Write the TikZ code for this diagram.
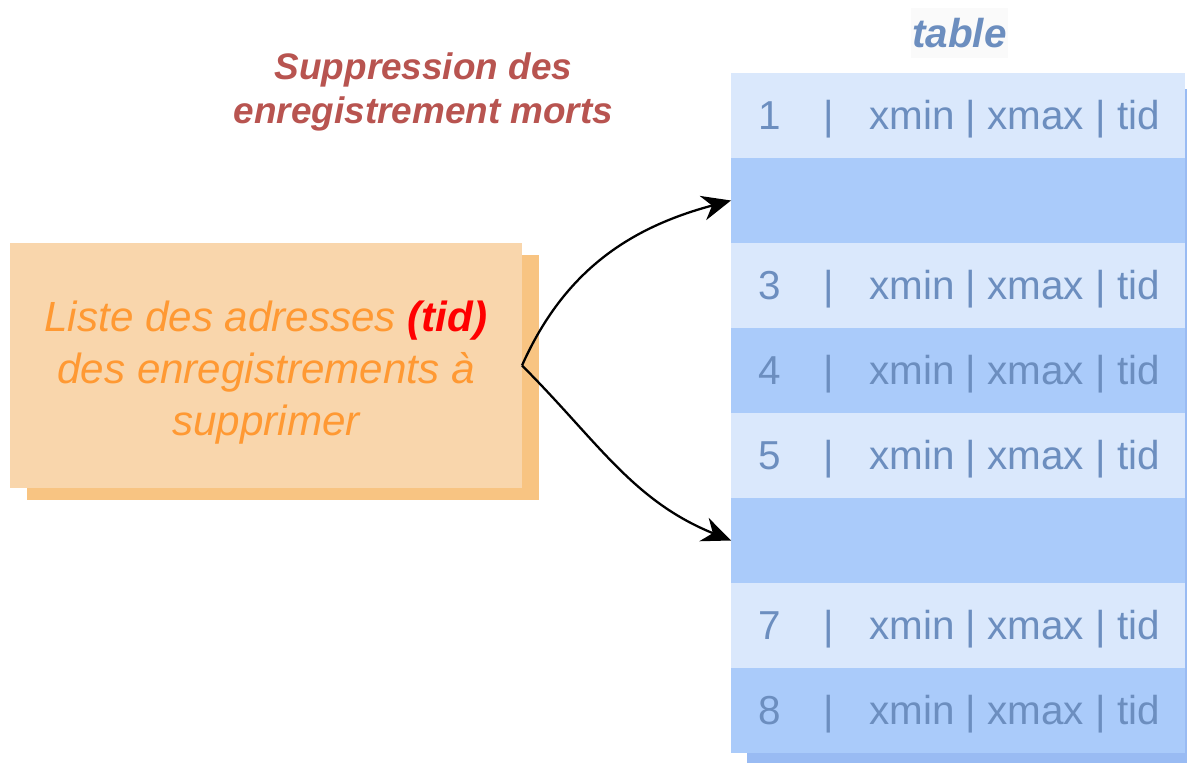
\documentclass[tikz,border=0pt]{standalone}
\usepackage{fontspec}
\setmainfont{Liberation Sans}
\usetikzlibrary{arrows.meta}
\usetikzlibrary{shadows}

\definecolor{rowlight}{HTML}{DAE8FC}
\definecolor{rowdark}{HTML}{AACBFA}
\definecolor{rowshadow}{HTML}{99BBF3}
\definecolor{rowtext}{HTML}{6C8EBF}
\definecolor{boxfill}{HTML}{F9D6AC}
\definecolor{boxshadow}{HTML}{F8C482}
\definecolor{boxtext}{HTML}{FF9933}
\definecolor{titlered}{HTML}{B85450}

\tikzset{
	row/.style={minimum width=9.08cm, minimum height=1.7cm, inner sep=0pt, outer sep=0pt},
	celltxt/.style={text=rowtext, inner sep=0pt, font=\fontsize{23}{27}\selectfont},
	listebox/.style={fill=boxfill, minimum width=10.24cm, minimum height=4.9cm, inner sep=0pt, outer sep=0pt,
		drop shadow={opacity=1, fill=boxshadow, shadow xshift=0.34cm, shadow yshift=-0.24cm}},
	listetxt/.style={text=boxtext, align=center, inner sep=0pt, font=\itshape\fontsize{24}{29.5}\selectfont},
	fleche/.style={-{Stealth[length=5.8mm,width=5mm]}, line width=1.3pt},
}

\begin{document}
\begin{tikzpicture}
		\useasboundingbox (0,0) rectangle (23.74,15.24);
		\node[font=\bfseries\itshape\fontsize{21}{25.5}\selectfont, text=titlered, align=center] (suppr) at (8.47,13.4) {Suppression des\\enregistrement morts};
		\node[font=\bfseries\itshape\fontsize{23}{28}\selectfont, text=rowtext, fill=black!2, minimum width=1.94cm, minimum height=1cm, inner sep=0pt] (tbltitre) at (19.19,14.58) {table};
		\fill[rowshadow] (14.94,-0.3) rectangle (24,13.46);
		\foreach \i in {1,...,8} {
			\ifodd\i \def\rowcol{rowlight}\else\def\rowcol{rowdark}\fi
			\node[row, fill=\rowcol] (r\i) at (19.16,14.63-1.7*\i) {};
		}
		\foreach \i in {1,3,4,5,7,8} {
			\node[celltxt, anchor=base west] (n\i) at ([xshift=0.55cm, yshift=-0.28cm]r\i.west) {\i};
			\node[celltxt, anchor=base] (b\i) at ([xshift=1.96cm, yshift=-0.28cm]r\i.west) {|};
			\node[celltxt, anchor=base west] (c\i) at ([xshift=2.76cm, yshift=-0.28cm]r\i.west) {xmin | xmax | tid};
		}
		\node[listebox] (liste) at (5.32,7.93) {};
		\node[listetxt] (listetexte) at ([yshift=-0.14cm]liste.center) {Liste des adresses \textcolor{red}{\textbf{(tid)}}\\des enregistrements à\\supprimer};
		\draw[fleche] (liste.east) to[out=66, in=195] (r2.west);
		\draw[fleche] (liste.east) to[out=-45, in=158] (r6.west);
	\end{tikzpicture}
\end{document}
